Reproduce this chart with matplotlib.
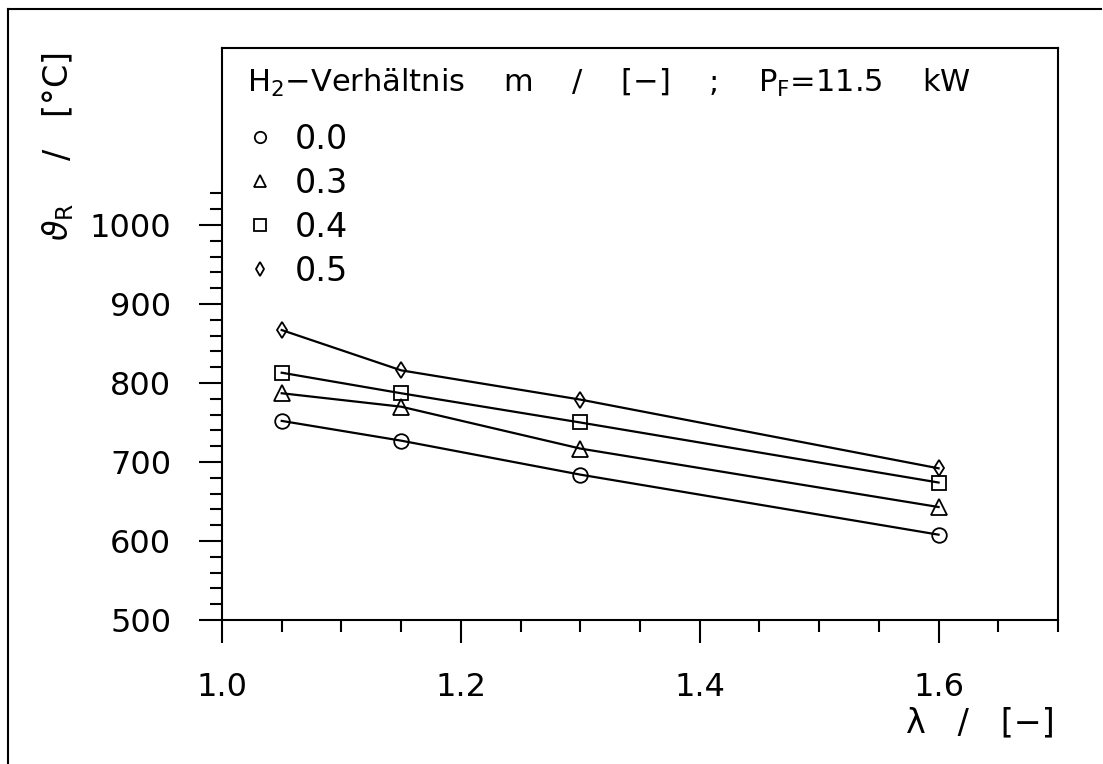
import matplotlib
matplotlib.use("Agg")
import matplotlib.pyplot as plt
from matplotlib.lines import Line2D
from matplotlib.ticker import FixedLocator, MultipleLocator

# ---- data ----
lam = [1.05, 1.15, 1.30, 1.60]
ratios = ["0.0", "0.3", "0.4", "0.5"]
temp_00 = [752, 727, 684, 608]
temp_03 = [787, 770, 717, 643]
temp_04 = [813, 787, 750, 674]
temp_05 = [867, 816, 779, 692]
series = [temp_00, temp_03, temp_04, temp_05]
markers = ["o", "^", "s", "d"]
msizes = [10.5, 11, 10.5, 8.5]
x_major = [1.0, 1.2, 1.4, 1.6]
y_major = [500, 600, 700, 800, 900, 1000]
y_minor = list(range(500, 1041, 20))

W, H = 1103, 764
fig = plt.figure(figsize=(W / 100, H / 100), dpi=100)
plt.rcParams['font.family'] = ['DejaVu Sans']
plt.rcParams['mathtext.fontset'] = 'dejavusans'

ax = fig.add_axes([222 / W, 1 - 620 / H, (1058 - 222) / W, (620 - 48) / H])

for vals, mk, ms in zip(series, markers, msizes):
    ax.plot(lam, vals, color="black", lw=1.6, marker=mk, ms=ms,
            mfc="none", mec="black", mew=1.3)

ax.set_xlim(1.0, 1.7)
ax.set_ylim(500, 1224)
ax.set_xticks(x_major)
ax.set_xticklabels([f"{v:.1f}" for v in x_major])
ax.xaxis.set_minor_locator(MultipleLocator(0.05))
ax.set_yticks(y_major)
ax.set_yticklabels([str(v) for v in y_major])
ax.yaxis.set_minor_locator(FixedLocator(y_minor))

ax.tick_params(axis="both", which="major", direction="out", length=16.5,
               width=1.5, labelsize=23)
ax.tick_params(axis="x", which="major", pad=21)
ax.tick_params(axis="y", which="major", pad=20)
ax.tick_params(axis="both", which="minor", direction="out", length=8.5,
               width=1.5)
for sp in ax.spines.values():
    sp.set_linewidth(1.5)

# axis labels
fig.text(58 / W, 1 - 53 / H, r"$\vartheta_{\mathrm{R}}$    /   [°C]", rotation=90,
         ha="center", va="top", fontsize=24)
fig.text(1055 / W, 1 - 723 / H, "λ   /   [−]", ha="right", va="center",
         fontsize=24)

# legend title
title = r"H$_2$−Verhältnis    m    /    [−]    ;    P$_{\mathrm{F}}$=11.5    kW"
fig.text(247 / W, 1 - 92 / H, title, ha="left", va="baseline", fontsize=22)

# legend
handles = [Line2D([], [], ls="none", marker=mk, ms=ms * 0.78, mfc="none",
                  mec="black", mew=1.3) for mk, ms in zip(markers, msizes)]
fs = 24
px = fs * 100 / 72
leg = ax.legend(handles, ratios, loc="upper left",
                bbox_to_anchor=((247 - 222) / (1058 - 222), 1 - (123 - 48) / (620 - 48)),
                frameon=False, fontsize=fs,
                handlelength=26 / px, handletextpad=22 / px, labelspacing=0.33,
                borderaxespad=0, borderpad=0)

# outer frame (top and left)
fig.add_artist(Line2D([8 / W, 8 / W], [0, 1 - 9 / H], transform=fig.transFigure,
                      color="black", lw=1.5))
fig.add_artist(Line2D([8 / W, 1101 / W], [1 - 9 / H, 1 - 9 / H],
                      transform=fig.transFigure, color="black", lw=1.5))

fig.savefig("out.png", dpi=100)
